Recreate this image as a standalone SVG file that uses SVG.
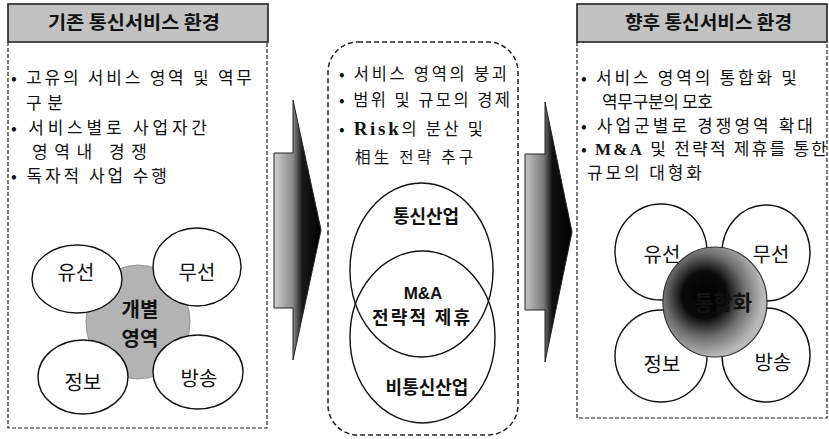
<svg xmlns="http://www.w3.org/2000/svg" width="829" height="439" viewBox="0 0 829 439">
<style>
.hdr{fill:#c2c2c2;stroke:#222;stroke-width:1.6}
.hdrt{font-family:"Noto Sans CJK KR","Noto Sans",sans-serif;font-weight:bold;font-size:18px;fill:#111}
.dash{fill:none;stroke:#222;stroke-width:1.2;stroke-dasharray:4 2}
.li{font-family:"Noto Sans CJK KR","Noto Sans",sans-serif;font-size:17px;fill:#111}
.lim{font-family:"Noto Sans CJK KR","Noto Sans",sans-serif;font-size:16.5px;fill:#111}
.ser{font-family:"Liberation Serif",serif;font-weight:bold}
.circ{fill:#fff;stroke:#111;stroke-width:1.4}
.cl{font-family:"Noto Sans CJK KR","Noto Sans",sans-serif;font-size:20px;fill:#111;text-anchor:middle}
.bl{font-family:"Noto Sans CJK KR","Noto Sans",sans-serif;font-weight:bold;font-size:18px;fill:#111;text-anchor:middle}
.ven{fill:none;stroke:#111;stroke-width:1.4}
</style>
<defs>
<linearGradient id="ga1" gradientUnits="userSpaceOnUse" x1="274" y1="0" x2="321" y2="0">
<stop offset="0" stop-color="#cfcfcf"/><stop offset="0.4" stop-color="#8a8a8a"/><stop offset="0.6" stop-color="#1a1a1a"/><stop offset="1" stop-color="#000"/>
</linearGradient>
<linearGradient id="ga2" gradientUnits="userSpaceOnUse" x1="525" y1="0" x2="572" y2="0">
<stop offset="0" stop-color="#c4c4c4"/><stop offset="0.4" stop-color="#777"/><stop offset="0.58" stop-color="#111"/><stop offset="1" stop-color="#000"/>
</linearGradient>
<radialGradient id="gc" cx="0.4" cy="0.44" r="0.56">
<stop offset="0" stop-color="#000"/><stop offset="0.38" stop-color="#0a0a0a"/><stop offset="0.68" stop-color="#6e6e6e"/><stop offset="1" stop-color="#b8b8b8"/>
</radialGradient>
</defs>
<rect width="829" height="439" fill="#fff"/>

<g id="panel-left">
<rect class="hdr" x="8" y="4" width="260" height="38"/>
<text class="hdrt" x="48" y="29" textLength="172" lengthAdjust="spacingAndGlyphs">기존 통신서비스 환경</text>
<path class="dash" d="M8,42 V428 H267 V42"/>
<text class="li" x="11" y="84" textLength="241" lengthAdjust="spacing">• 고유의 서비스 영역 및 역무</text>
<text class="li" x="26" y="109" textLength="37" lengthAdjust="spacing">구분</text>
<text class="li" x="11" y="134" textLength="196" lengthAdjust="spacing">• 서비스별로 사업자간</text>
<text class="li" x="32" y="158" textLength="115" lengthAdjust="spacing">영역내 경쟁</text>
<text class="li" x="11" y="182" textLength="156" lengthAdjust="spacing">• 독자적 사업 수행</text>
</g>

<g id="node-gaebyeol">
<ellipse cx="138" cy="322" rx="52" ry="57" fill="#b3b3b3" stroke="#8a8a8a" stroke-width="0.8"/>
<text class="bl" style="font-size:20px" x="140" y="317">개별</text>
<text class="bl" style="font-size:20px" x="140" y="346">영역</text>
</g>
<g id="node-l-yuseon"><ellipse class="circ" cx="77" cy="279" rx="45" ry="34"/><text class="cl" x="76" y="280">유선</text></g>
<g id="node-l-museon"><ellipse class="circ" cx="197" cy="267" rx="44" ry="39"/><text class="cl" x="197" y="280">무선</text></g>
<g id="node-l-jeongbo"><ellipse class="circ" cx="83" cy="377" rx="45" ry="37"/><text class="cl" x="83" y="390">정보</text></g>
<g id="node-l-bangsong"><ellipse class="circ" cx="198" cy="372" rx="45" ry="37"/><text class="cl" x="199" y="386">방송</text></g>

<g id="panel-middle">
<rect class="dash" style="stroke-width:1.5;stroke-dasharray:5 3" x="328" y="42" width="190" height="393" rx="30"/>
<text class="lim" x="339" y="80" textLength="168" lengthAdjust="spacing">• 서비스 영역의 붕괴</text>
<text class="lim" x="339" y="106" textLength="171" lengthAdjust="spacing">• 범위 및 규모의 경제</text>
<text class="lim" x="339" y="135" textLength="144" lengthAdjust="spacing">• <tspan class="ser" style="font-size:19px">Risk</tspan>의 분산 및</text>
<text class="lim" style="font-size:15.5px" x="355" y="163" textLength="118" lengthAdjust="spacing">相生 전략 추구</text>
</g>
<g id="node-tongsin">
<ellipse class="ven" cx="421.5" cy="270" rx="71.5" ry="87"/>
<text class="bl" x="426" y="223">통신산업</text>
</g>
<g id="node-bitongsin">
<ellipse class="ven" cx="422.5" cy="337" rx="72.5" ry="86"/>
<text class="bl" x="427" y="394">비통신산업</text>
</g>
<g id="node-ma">
<text class="bl" style="font-family:'Liberation Sans',sans-serif;font-size:17px" x="423" y="299">M&amp;A</text>
<text class="bl" x="421" y="324" textLength="98" lengthAdjust="spacing">전략적 제휴</text>
</g>

<g id="panel-right">
<rect class="hdr" x="577" y="4" width="250" height="38"/>
<text class="hdrt" x="625" y="29" textLength="167" lengthAdjust="spacingAndGlyphs">향후 통신서비스 환경</text>
<path class="dash" d="M577,42 V418 H827 V42"/>
<text class="li" x="581" y="84" textLength="216" lengthAdjust="spacing">• 서비스 영역의 통합화 및</text>
<text class="li" x="602" y="108" textLength="111" lengthAdjust="spacing">역무구분의 모호</text>
<text class="li" x="581" y="132" textLength="232" lengthAdjust="spacing">• 사업군별로 경쟁영역 확대</text>
<text class="li" x="581" y="155" textLength="246" lengthAdjust="spacing">• <tspan class="ser">M&amp;A</tspan> 및 전략적 제휴를 통한</text>
<text class="li" x="587" y="179" textLength="115" lengthAdjust="spacing">규모의 대형화</text>
</g>
<g id="node-r-yuseon"><ellipse class="circ" cx="661" cy="252" rx="46" ry="48"/><text class="cl" x="662" y="262">유선</text></g>
<g id="node-r-museon"><ellipse class="circ" cx="766" cy="253" rx="44" ry="48"/><text class="cl" x="771" y="262">무선</text></g>
<g id="node-r-jeongbo"><ellipse class="circ" cx="661" cy="356" rx="46" ry="46"/><text class="cl" x="662" y="372">정보</text></g>
<g id="node-r-bangsong"><ellipse class="circ" cx="766" cy="355" rx="44" ry="47"/><text class="cl" x="773" y="370">방송</text></g>
<g id="node-r-center">
<ellipse cx="715" cy="302" rx="52" ry="55" fill="url(#gc)" stroke="#333" stroke-width="1.2"/>
<text class="bl" style="font-size:21px;text-anchor:end" x="752" y="310">통합화</text>
</g>

<g id="connectors">
<path d="M274,153 H293 V100 L321,230 L293,360 V308 H274 Z" fill="url(#ga1)" stroke="#222" stroke-width="1"/>
<path d="M525,154 H545 V102 L572,232 L545,362 V310 H525 Z" fill="url(#ga2)" stroke="#222" stroke-width="1"/>
</g>
</svg>
